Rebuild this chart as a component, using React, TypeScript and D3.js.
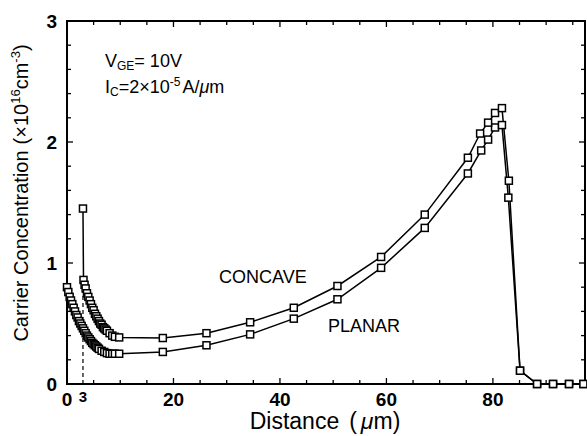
import React from "react";
import * as d3 from "d3";

const planarX = [0, 0.25, 0.5, 0.75, 1, 1.25, 1.5, 1.75, 2, 2.25, 2.5, 2.75, 3, 3.25, 3.5, 3.75, 4, 4.25, 4.5, 4.75, 5, 5.25, 5.5, 5.75, 6, 6.5, 7, 7.5, 8, 8.5, 9, 9.8, 18, 26.2, 34.4, 42.6, 50.8, 59, 67.2, 75.3, 77.8, 79.1, 80.4, 81.7, 82.9, 85.1, 88.3, 91.3, 94.3, 97];
const planarY = [0.8, 0.76, 0.72, 0.69, 0.66, 0.63, 0.6, 0.57, 0.55, 0.52, 0.5, 0.48, 0.46, 0.44, 0.42, 0.4, 0.385, 0.37, 0.355, 0.34, 0.33, 0.32, 0.31, 0.3, 0.29, 0.275, 0.265, 0.255, 0.25, 0.25, 0.25, 0.25, 0.265, 0.32, 0.41, 0.54, 0.7, 0.96, 1.29, 1.74, 1.93, 2.02, 2.12, 2.14, 1.54, 0.11, 0, 0, 0, 0];

const concaveX = [3, 3.1, 3.3, 3.5, 3.75, 4, 4.25, 4.5, 4.75, 5, 5.25, 5.5, 5.75, 6, 6.25, 6.5, 6.75, 7, 7.25, 7.5, 8, 8.5, 9, 9.8, 18, 26.2, 34.4, 42.6, 50.8, 59, 67.2, 75.3, 77.6, 79.1, 80.4, 81.7, 83, 85.1, 88.3, 91.3, 94.3, 97];
const concaveY = [1.45, 0.86, 0.82, 0.79, 0.75, 0.72, 0.69, 0.66, 0.63, 0.61, 0.58, 0.56, 0.54, 0.52, 0.5, 0.49, 0.47, 0.46, 0.45, 0.44, 0.42, 0.4, 0.39, 0.385, 0.38, 0.42, 0.51, 0.63, 0.81, 1.05, 1.4, 1.87, 2.07, 2.16, 2.24, 2.28, 1.68, 0.11, 0, 0, 0, 0];

const xTickLabels = [0, 3, 20, 40, 60, 80];
const yTickLabels = [0, 1, 2, 3];

const W = 587;
const H = 436;
const X0 = 67, X1 = 585, Y0 = 384, Y1 = 21;

export default function App() {
  const x = d3.scaleLinear().domain([0, 97.3]).range([X0, X1]);
  const y = d3.scaleLinear().domain([0, 3]).range([Y0, Y1]);
  const line = d3.line<[number, number]>().x(d => x(d[0])).y(d => y(d[1]));
  const planar: [number, number][] = planarX.map((v, i) => [v, planarY[i]]);
  const concave: [number, number][] = concaveX.map((v, i) => [v, concaveY[i]]);
  const xMinor = d3.range(0, 97, 5);
  const yMinor = d3.range(0, 3.01, 0.2);
  const font = "Liberation Sans, Arial, Helvetica, sans-serif";
  const ms = 7;
  return (
    <svg width={W} height={H} style={{ position: "absolute", left: 0, top: 0, background: "#fff" }} fontFamily={font}>
      <rect x={0} y={0} width={W} height={H} fill="#fff" />
      {xMinor.map(t => {
        const len = t % 20 === 0 ? 6 : 4;
        return (
          <g key={"xt" + t}>
            <line x1={x(t)} x2={x(t)} y1={Y0} y2={Y0 - len} stroke="#000" strokeWidth={1.3} />
            <line x1={x(t)} x2={x(t)} y1={Y1} y2={Y1 + len} stroke="#000" strokeWidth={1.3} />
          </g>
        );
      })}
      {yMinor.map((t, i) => {
        const len = i % 5 === 0 ? 6 : 4;
        return (
          <g key={"yt" + i}>
            <line x1={X0} x2={X0 + len} y1={y(t)} y2={y(t)} stroke="#000" strokeWidth={1.3} />
            <line x1={X1} x2={X1 - len} y1={y(t)} y2={y(t)} stroke="#000" strokeWidth={1.3} />
          </g>
        );
      })}
      <rect x={X0} y={Y1} width={X1 - X0} height={Y0 - Y1} fill="none" stroke="#000" strokeWidth={2} />
      <line x1={x(3)} x2={x(3)} y1={Y0} y2={y(0.82)} stroke="#000" strokeWidth={1.2} strokeDasharray="4,3" />
      <path d={line(planar) || ""} fill="none" stroke="#000" strokeWidth={1.5} />
      <path d={line(concave) || ""} fill="none" stroke="#000" strokeWidth={1.5} />
      {planar.map((d, i) => (
        <rect key={"p" + i} x={x(d[0]) - ms / 2} y={y(d[1]) - ms / 2} width={ms} height={ms} fill="#fff" stroke="#000" strokeWidth={1.5} />
      ))}
      {concave.map((d, i) => (
        <rect key={"c" + i} x={x(d[0]) - ms / 2} y={y(d[1]) - ms / 2} width={ms} height={ms} fill="#fff" stroke="#000" strokeWidth={1.5} />
      ))}
      {xTickLabels.map(t => (
        <text key={"xl" + t} x={x(t)} y={t === 3 ? 402 : 406} textAnchor="middle" fontSize={t === 3 ? 15 : 19} fontWeight="bold">{t}</text>
      ))}
      {yTickLabels.map(t => (
        <text key={"yl" + t} x={57} y={y(t) + 7} textAnchor="end" fontSize={19} fontWeight="bold">{t}</text>
      ))}
      <text x={325} y={429} textAnchor="middle" fontSize={23}>
        Distance
        <tspan dx={10}>(</tspan>
        <tspan dx={4} fontStyle="italic">μ</tspan>
        <tspan>m)</tspan>
      </text>
      <text transform={`translate(28,${193}) rotate(-90)`} textAnchor="middle" fontSize={20}>
        Carrier Concentration
        <tspan dx={6}>(×10</tspan>
        <tspan dy={-8} fontSize={13}>16</tspan>
        <tspan dy={8}>cm</tspan>
        <tspan dy={-8} fontSize={13}>-3</tspan>
        <tspan dy={8}>)</tspan>
      </text>
      <text x={105} y={67} fontSize={18}>
        V<tspan dy={3} fontSize={12}>GE</tspan>
        <tspan dy={-3}>= 10V</tspan>
      </text>
      <text x={105} y={93} fontSize={18}>
        I<tspan dy={3} fontSize={12}>C</tspan>
        <tspan dy={-3}>=2×10</tspan>
        <tspan dy={-7} fontSize={12}>-5</tspan>
        <tspan dy={7} dx={2}>A/</tspan>
        <tspan fontStyle="italic">μ</tspan>
        <tspan>m</tspan>
      </text>
      <text x={219} y={283} fontSize={18}>CONCAVE</text>
      <text x={328} y={332} fontSize={18}>PLANAR</text>
    </svg>
  );
}
